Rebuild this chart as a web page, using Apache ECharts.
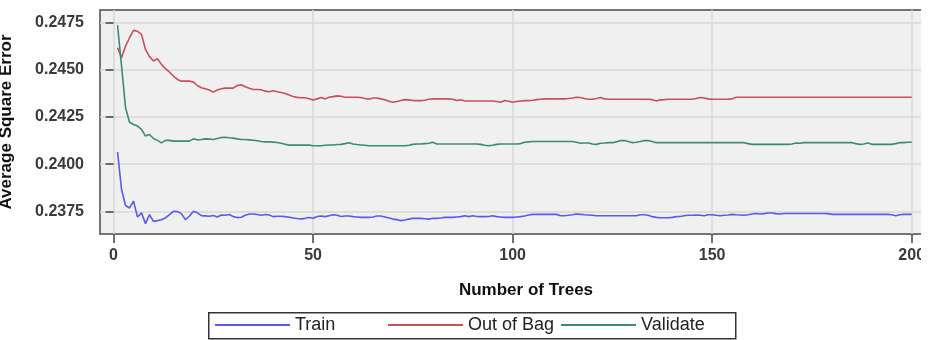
<!DOCTYPE html>
<html><head><meta charset="utf-8">
<script src="https://cdn.jsdelivr.net/npm/echarts@6/dist/echarts.min.js"></script>
<style>html,body{margin:0;padding:0;background:#fff}#c{width:932px;height:340px}</style>
</head><body><div id="c"></div>
<script>
const seriesNames = ['Train', 'Out of Bag', 'Validate'];
const xTicks = [0, 50, 100, 150, 200];
const yTicks = [0.2375, 0.2400, 0.2425, 0.2450, 0.2475];

const trainValues = [
0.24064,0.23866,0.23781,0.23768,0.23804,0.23720,0.23742,0.23685,0.23733,0.23697,
0.23701,0.23706,0.23715,0.23733,0.23750,0.23749,0.23738,0.23706,0.23724,0.23750,
0.23742,0.23727,0.23726,0.23724,0.23728,0.23720,0.23731,0.23729,0.23733,0.23722,
0.23717,0.23719,0.23729,0.23736,0.23736,0.23733,0.23729,0.23733,0.23731,0.23722,
0.23724,0.23724,0.23722,0.23719,0.23715,0.23712,0.23710,0.23713,0.23717,0.23713,
0.23723,0.23725,0.23722,0.23727,0.23732,0.23729,0.23723,0.23725,0.23725,0.23722,
0.23720,0.23718,0.23718,0.23718,0.23720,0.23725,0.23725,0.23720,0.23715,0.23709,
0.23706,0.23701,0.23704,0.23709,0.23713,0.23713,0.23713,0.23711,0.23709,0.23713,
0.23713,0.23715,0.23718,0.23718,0.23718,0.23720,0.23722,0.23727,0.23722,0.23727,
0.23723,0.23722,0.23722,0.23723,0.23727,0.23722,0.23720,0.23718,0.23718,0.23718,
0.23720,0.23722,0.23725,0.23731,0.23734,0.23734,0.23734,0.23734,0.23734,0.23734,
0.23734,0.23727,0.23727,0.23729,0.23732,0.23736,0.23734,0.23732,0.23731,0.23729,
0.23727,0.23727,0.23727,0.23727,0.23727,0.23727,0.23727,0.23727,0.23727,0.23727,
0.23727,0.23732,0.23732,0.23729,0.23722,0.23718,0.23716,0.23716,0.23716,0.23718,
0.23722,0.23723,0.23727,0.23729,0.23729,0.23731,0.23729,0.23727,0.23732,0.23732,
0.23729,0.23727,0.23729,0.23731,0.23734,0.23732,0.23731,0.23729,0.23732,0.23736,
0.23739,0.23736,0.23738,0.23741,0.23741,0.23738,0.23736,0.23739,0.23739,0.23739,
0.23739,0.23739,0.23739,0.23739,0.23739,0.23739,0.23739,0.23739,0.23738,0.23734,
0.23734,0.23734,0.23734,0.23734,0.23734,0.23734,0.23734,0.23734,0.23734,0.23734,
0.23734,0.23734,0.23734,0.23734,0.23732,0.23727,0.23732,0.23734,0.23734,0.23734
];

const oobValues = [
0.24617,0.24564,0.24626,0.24670,0.24709,0.24704,0.24688,0.24608,0.24570,0.24547,
0.24559,0.24529,0.24506,0.24488,0.24467,0.24449,0.24440,0.24440,0.24440,0.24435,
0.24417,0.24405,0.24400,0.24393,0.24382,0.24393,0.24400,0.24403,0.24403,0.24403,
0.24417,0.24421,0.24410,0.24402,0.24396,0.24396,0.24394,0.24387,0.24384,0.24389,
0.24384,0.24380,0.24375,0.24366,0.24359,0.24354,0.24352,0.24352,0.24347,0.24340,
0.24346,0.24353,0.24346,0.24355,0.24358,0.24362,0.24360,0.24355,0.24355,0.24355,
0.24355,0.24353,0.24348,0.24344,0.24351,0.24351,0.24346,0.24341,0.24333,0.24328,
0.24332,0.24337,0.24342,0.24341,0.24337,0.24337,0.24337,0.24339,0.24344,0.24346,
0.24346,0.24346,0.24346,0.24346,0.24344,0.24337,0.24341,0.24335,0.24335,0.24335,
0.24335,0.24335,0.24335,0.24335,0.24335,0.24332,0.24328,0.24337,0.24333,0.24328,
0.24332,0.24335,0.24337,0.24337,0.24339,0.24342,0.24344,0.24346,0.24346,0.24346,
0.24346,0.24346,0.24346,0.24348,0.24351,0.24355,0.24353,0.24348,0.24344,0.24344,
0.24348,0.24353,0.24346,0.24344,0.24344,0.24344,0.24344,0.24344,0.24344,0.24344,
0.24344,0.24344,0.24344,0.24344,0.24342,0.24335,0.24341,0.24342,0.24344,0.24344,
0.24344,0.24344,0.24344,0.24344,0.24344,0.24348,0.24353,0.24351,0.24346,0.24344,
0.24344,0.24344,0.24344,0.24344,0.24346,0.24355,0.24355,0.24355,0.24355,0.24355,
0.24355,0.24355,0.24355,0.24355,0.24355,0.24355,0.24355,0.24355,0.24355,0.24355,
0.24355,0.24355,0.24355,0.24355,0.24355,0.24355,0.24355,0.24355,0.24355,0.24355,
0.24355,0.24355,0.24355,0.24355,0.24355,0.24355,0.24355,0.24355,0.24355,0.24355,
0.24355,0.24355,0.24355,0.24355,0.24355,0.24355,0.24355,0.24355,0.24355,0.24355
];

const validateValues = [
0.24736,0.24520,0.24299,0.24222,0.24210,0.24202,0.24184,0.24149,0.24157,0.24136,
0.24126,0.24113,0.24126,0.24126,0.24122,0.24122,0.24122,0.24122,0.24122,0.24134,
0.24129,0.24131,0.24134,0.24133,0.24131,0.24136,0.24141,0.24143,0.24140,0.24138,
0.24134,0.24131,0.24131,0.24129,0.24127,0.24124,0.24120,0.24118,0.24118,0.24117,
0.24115,0.24111,0.24106,0.24101,0.24101,0.24101,0.24101,0.24101,0.24101,0.24098,
0.24098,0.24098,0.24100,0.24102,0.24102,0.24104,0.24105,0.24109,0.24114,0.24107,
0.24104,0.24102,0.24100,0.24098,0.24098,0.24098,0.24098,0.24098,0.24098,0.24098,
0.24098,0.24098,0.24098,0.24100,0.24105,0.24107,0.24107,0.24109,0.24111,0.24116,
0.24107,0.24107,0.24107,0.24107,0.24107,0.24107,0.24107,0.24107,0.24107,0.24107,
0.24107,0.24105,0.24100,0.24098,0.24100,0.24105,0.24107,0.24107,0.24107,0.24107,
0.24107,0.24109,0.24116,0.24118,0.24120,0.24120,0.24120,0.24120,0.24120,0.24120,
0.24120,0.24120,0.24120,0.24120,0.24120,0.24116,0.24111,0.24112,0.24112,0.24107,
0.24105,0.24111,0.24112,0.24114,0.24114,0.24118,0.24125,0.24125,0.24120,0.24114,
0.24116,0.24120,0.24125,0.24125,0.24120,0.24114,0.24114,0.24114,0.24114,0.24114,
0.24114,0.24114,0.24114,0.24114,0.24114,0.24114,0.24114,0.24114,0.24114,0.24114,
0.24114,0.24114,0.24114,0.24114,0.24114,0.24114,0.24114,0.24114,0.24109,0.24105,
0.24105,0.24105,0.24105,0.24105,0.24105,0.24105,0.24105,0.24105,0.24105,0.24107,
0.24112,0.24111,0.24114,0.24114,0.24114,0.24114,0.24114,0.24114,0.24114,0.24114,
0.24114,0.24114,0.24114,0.24114,0.24114,0.24109,0.24105,0.24107,0.24112,0.24105,
0.24105,0.24105,0.24105,0.24105,0.24105,0.24109,0.24114,0.24114,0.24116,0.24116
];

const colors = ['#5a5af0', '#c8505a', '#3a8a78'];
const toPairs = vals => vals.map((v, i) => [i + 1, v]);
const allValues = [trainValues, oobValues, validateValues];

const font = 'Liberation Sans, Arial, sans-serif';
const chart = echarts.init(document.getElementById('c'), null, {renderer: 'canvas'});

function legendFor(name, left) {
  return {
    data: [name], left: left, top: 316, icon: 'rect', itemWidth: 75, itemHeight: 2,
    selectedMode: false, padding: 0,
    textStyle: {fontFamily: font, fontSize: 18, color: '#222'}
  };
}

chart.setOption({
  animation: false,
  backgroundColor: '#ffffff',
  color: colors,
  grid: {left: 100, top: 10, right: -20, bottom: 106, show: true, containLabel: false,
    outerBoundsMode: 'none',
    backgroundColor: '#f0f0f0', borderColor: '#4a4a4a', borderWidth: 1.5},
  xAxis: {
    type: 'value', min: -3.4, max: 210.1,
    name: 'Number of Trees', nameLocation: 'middle', nameGap: 48,
    nameTextStyle: {fontFamily: font, fontSize: 17, fontWeight: 'bold', color: '#111'},
    axisLine: {show: false},
    axisTick: {show: true, length: 9, customValues: xTicks, lineStyle: {color: '#444', width: 1.5}},
    axisLabel: {customValues: xTicks, margin: 14, fontFamily: font, fontSize: 16, fontWeight: 'bold', color: '#3a3a3a'},
    splitLine: {show: true, lineStyle: {color: '#d9d9d9', width: 1.5}}
  },
  yAxis: {
    type: 'value', min: 0.23630, max: 0.24817,
    name: 'Average Square Error', nameLocation: 'middle', nameGap: 85,
    nameTextStyle: {fontFamily: font, fontSize: 17, fontWeight: 'bold', color: '#111'},
    axisLine: {show: false},
    axisTick: {show: true, length: 8, customValues: yTicks, lineStyle: {color: '#444', width: 1.5}},
    axisLabel: {customValues: yTicks, margin: 16, fontFamily: font, fontSize: 16, fontWeight: 'bold', color: '#3a3a3a',
      formatter: v => v.toFixed(4)},
    splitLine: {show: true, lineStyle: {color: '#d9d9d9', width: 1.5}}
  },
  legend: [legendFor(seriesNames[0], 215), legendFor(seriesNames[1], 388), legendFor(seriesNames[2], 561)],
  graphic: [
    {type: 'rect', left: 921, top: 0, shape: {width: 20, height: 340}, style: {fill: '#ffffff'}, z: 100},
    {type: 'rect', left: 208, top: 312, shape: {width: 527, height: 26},
      style: {fill: '#ffffff', stroke: '#333', lineWidth: 1.5}, z: -1}
  ],
  series: seriesNames.map((n, k) => ({
    name: n, type: 'line', data: toPairs(allValues[k]), symbol: 'none',
    lineStyle: {width: 1.6, color: colors[k]}, itemStyle: {color: colors[k]}
  }))
});
</script></body></html>
